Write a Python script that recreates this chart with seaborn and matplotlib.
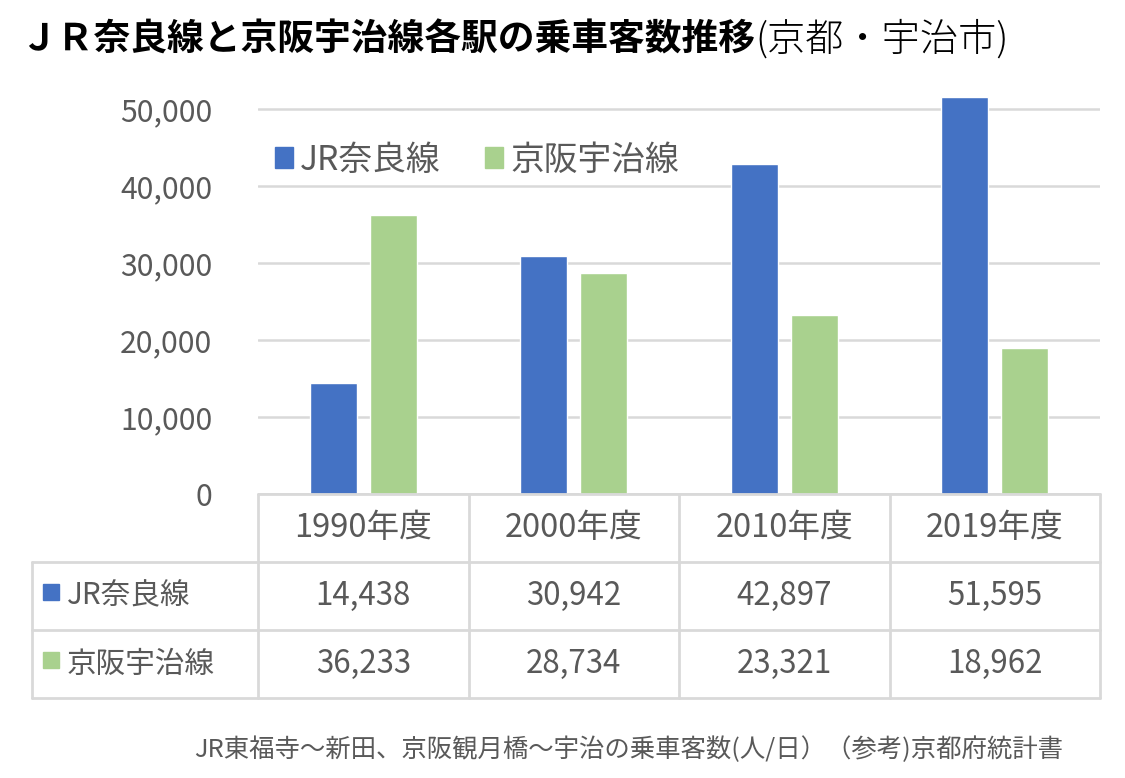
import numpy as np
import pandas as pd
import matplotlib
matplotlib.use("Agg")
import matplotlib.pyplot as plt
import matplotlib.transforms as mtransforms
from matplotlib.patches import Rectangle
import seaborn as sns

# データ
years = ["1990年度", "2000年度", "2010年度", "2019年度"]
series_names = ["JR奈良線", "京阪宇治線"]
jr_nara = [14438, 30942, 42897, 51595]
keihan_uji = [36233, 28734, 23321, 18962]
colors = ["#4472C4", "#A9D18E"]
title_main = "ＪＲ奈良線と京阪宇治線各駅の乗車客数推移"
title_sub = "(京都・宇治市)"
footnote = "JR東福寺～新田、京阪観月橋～宇治の乗車客数(人/日）（参考)京都府統計書"

sns.set_theme(style="white")
plt.rcParams["font.family"] = ["Noto Sans CJK JP", "DejaVu Sans"]

TEXT = "#595959"
LINE = "#d9d9d9"

df = pd.DataFrame({
    "year": years * 2,
    "line": [series_names[0]] * len(years) + [series_names[1]] * len(years),
    "riders": jr_nara + keihan_uji,
})

W, H = 1125, 778
fig = plt.figure(figsize=(W / 100, H / 100), dpi=100)
ax = fig.add_axes([258 / W, 1 - 494 / H, 842 / W, 400 / H])

sns.barplot(data=df, x="year", y="riders", hue="line", palette=colors,
            width=0.57, gap=0.22, saturation=1, ax=ax, legend=False)

ax.set_xlim(-0.5, len(years) - 0.5)
ax.set_ylim(0, 52000)
ax.set_yticks(np.arange(0, 50001, 10000))
ax.set_yticklabels([f"{v:,}" for v in np.arange(0, 50001, 10000)])
ax.tick_params(axis="y", length=0, pad=33, labelsize=21.7, labelcolor=TEXT)
ax.set_xticks([])
ax.set_xlabel("")
ax.set_ylabel("")
ax.yaxis.grid(True, color=LINE, lw=1.8)
ax.set_axisbelow(True)
for s in ax.spines.values():
    s.set_visible(False)

# 凡例
handles = [Rectangle((0, 0), 1, 1, color=c) for c in colors]
ax.legend(handles, series_names, ncol=2, frameon=False, loc="center left",
          bbox_to_anchor=(0.02, 0.835), fontsize=24.3, labelcolor=TEXT,
          handlelength=0.55, handleheight=0.55, handletextpad=0.2,
          columnspacing=1.3, borderaxespad=0, borderpad=0)

# データテーブル
trans = mtransforms.blended_transform_factory(ax.transData, ax.transAxes)
row_h = 68 / 400
x_left = -0.5 - 225 / 210
x_right = len(years) - 0.5
kw = dict(color=LINE, lw=2, transform=trans, clip_on=False)
ax.plot([-0.5, x_right], [0, 0], **kw)
for r in range(1, 4):
    ax.plot([x_left, x_right], [-r * row_h, -r * row_h], **kw)
ax.plot([x_left, x_left], [-row_h, -3 * row_h], **kw)
for i in range(len(years) + 1):
    ax.plot([i - 0.5, i - 0.5], [0, -3 * row_h], **kw)

for i, yr in enumerate(years):
    ax.text(i, -0.5 * row_h, yr, transform=trans, ha="center", va="center",
            fontsize=23.5, color=TEXT)
for r, (name, vals, c) in enumerate(zip(series_names, [jr_nara, keihan_uji], colors)):
    yc = -(r + 1.5) * row_h
    ax.plot([-0.5 - 206.5 / 210], [yc + 0.01], marker="s", markersize=12.2,
            color=c, transform=trans, clip_on=False)
    ax.text(-0.5 - 191 / 210, yc, name, transform=trans, ha="left", va="center",
            fontsize=21.3, color=TEXT)
    for i, v in enumerate(vals):
        ax.text(i, yc, f"{v:,}", transform=trans, ha="center", va="center",
                fontsize=22.5, color=TEXT)

# タイトル
t1 = fig.text(20 / W, 1 - 40 / H, title_main, fontsize=26.5, fontweight="bold",
              va="center", ha="left", color="black")
fig.canvas.draw()
bb = t1.get_window_extent()
fig.text(bb.x1 / W, 1 - 40 / H, title_sub, fontsize=27.5, fontweight="light",
         va="center", ha="left", color="black")

fig.text(1063 / W, 1 - 750 / H, footnote, fontsize=18.3, color=TEXT,
         ha="right", va="center")

fig.savefig("out.png", dpi=100)
